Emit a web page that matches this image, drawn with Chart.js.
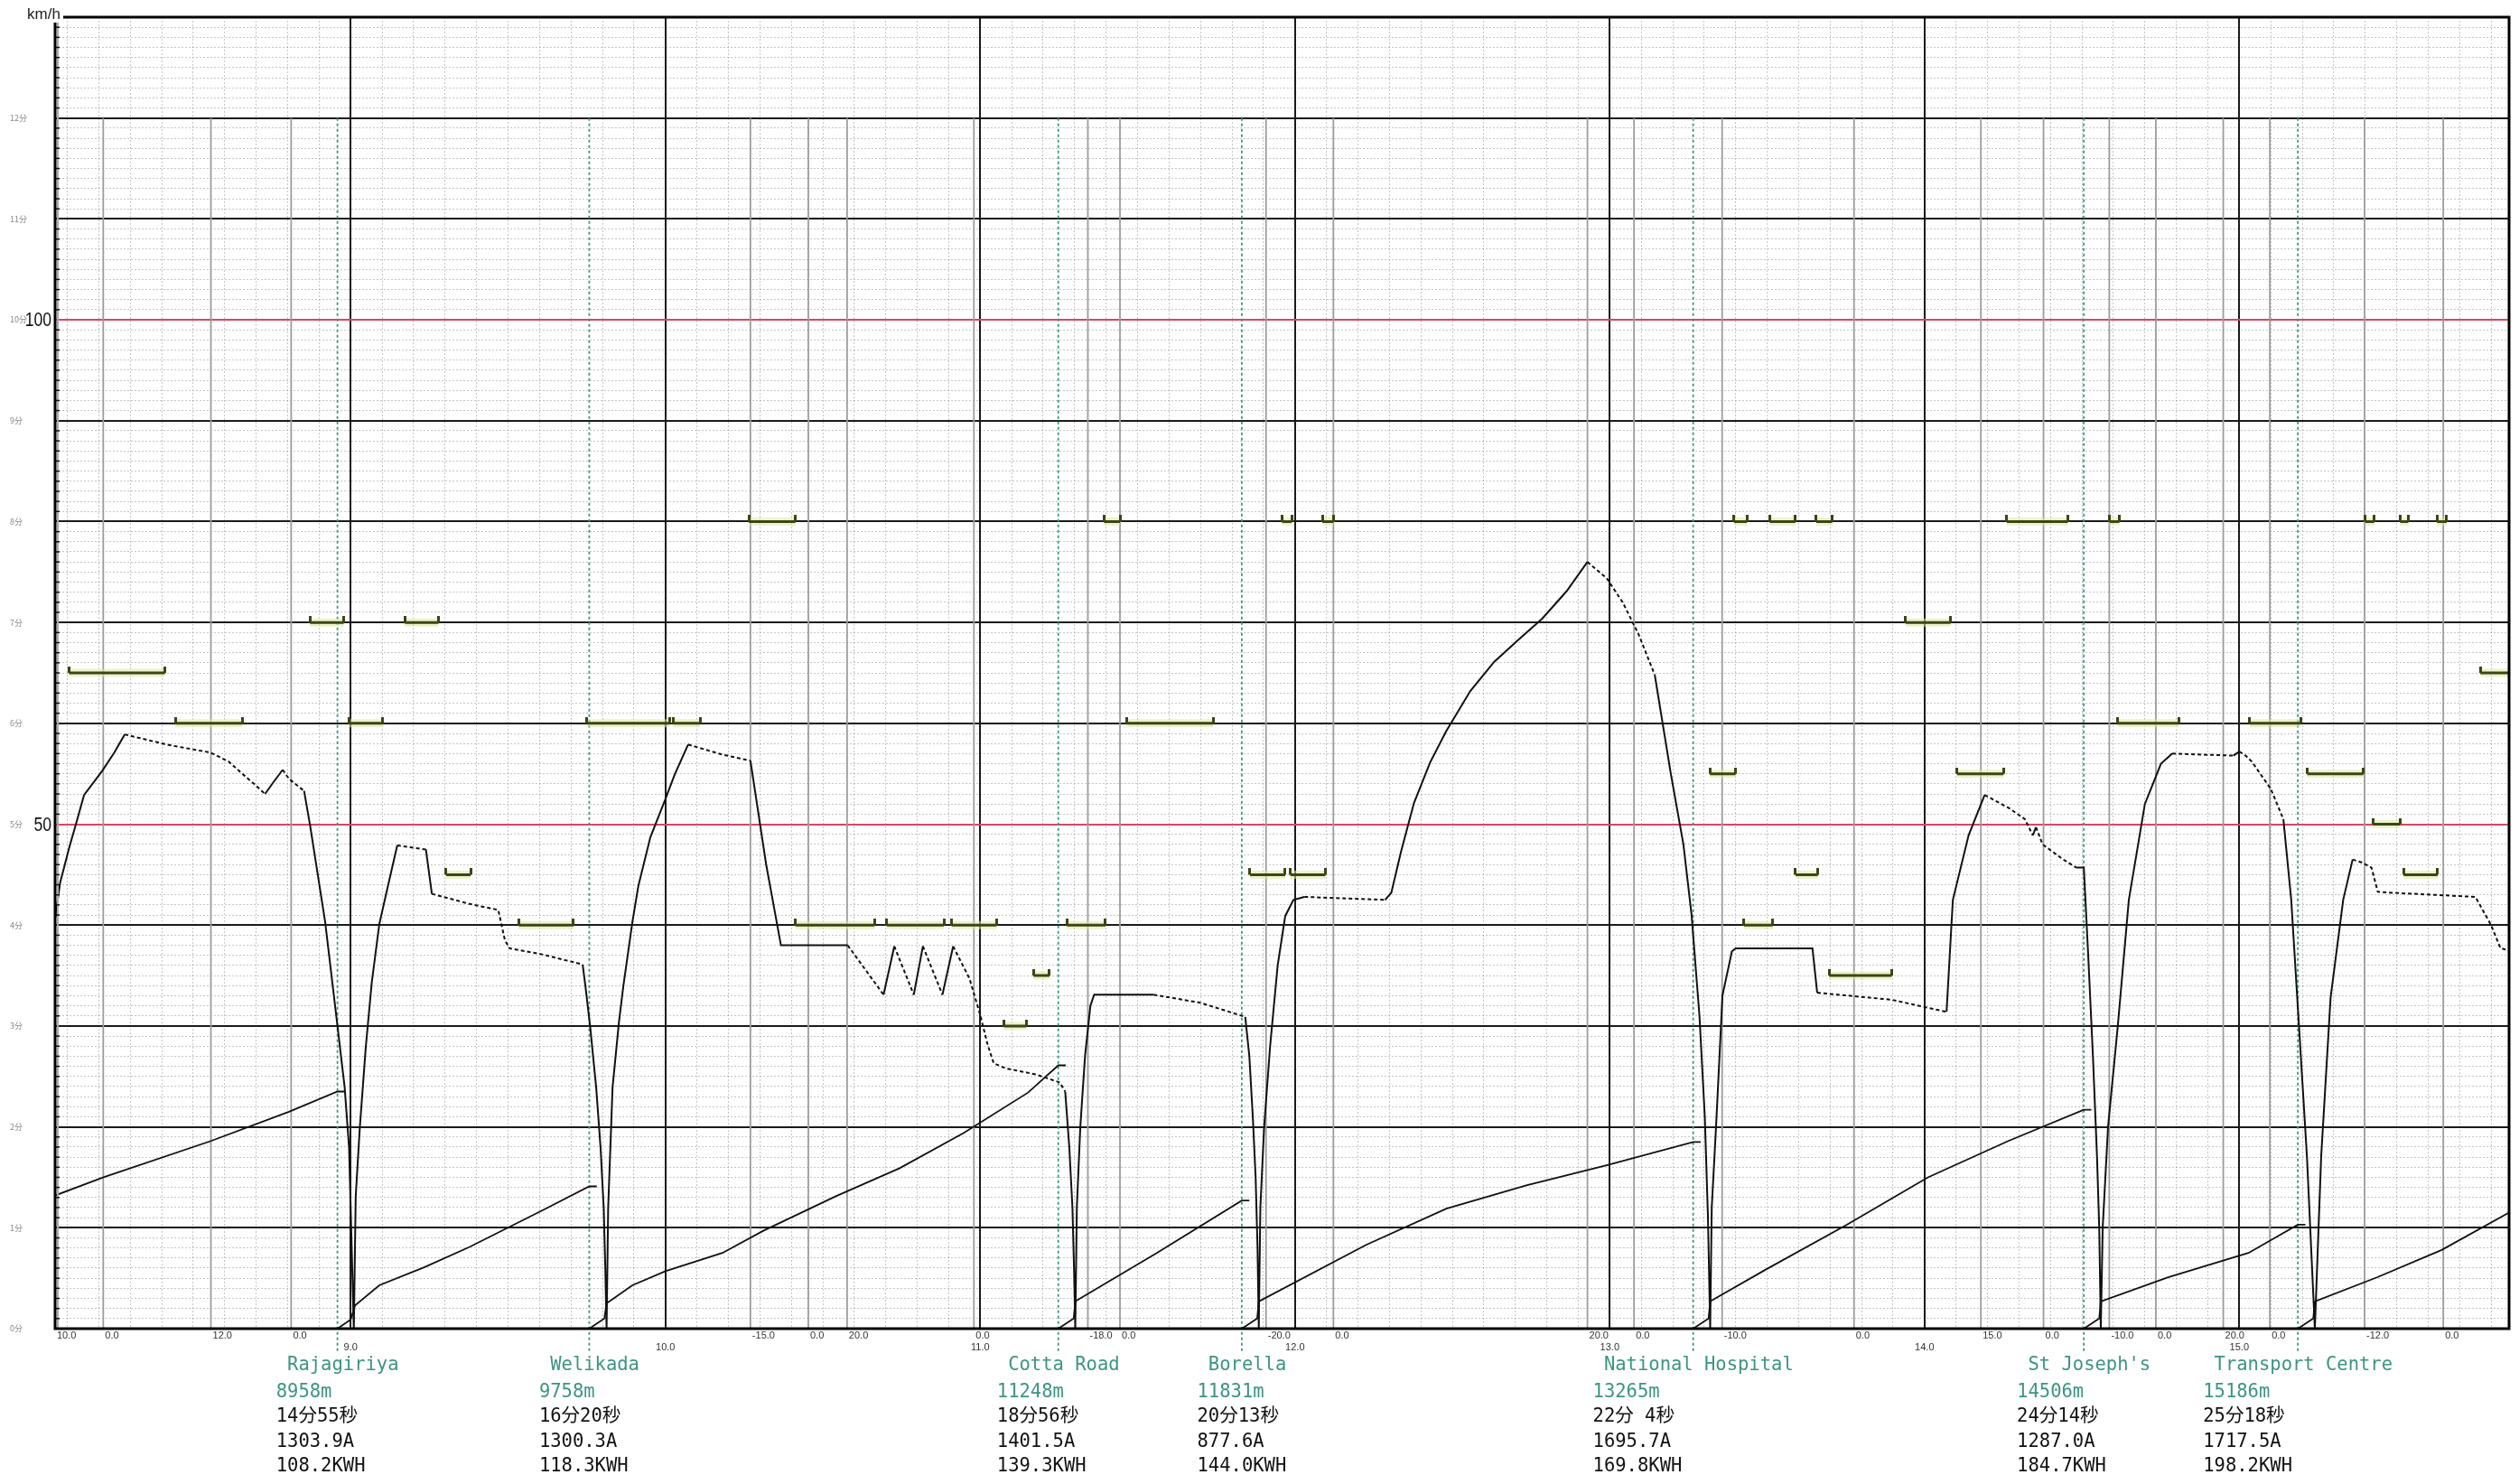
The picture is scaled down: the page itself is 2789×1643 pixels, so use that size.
<!DOCTYPE html>
<html>
<head>
<meta charset="utf-8">
<script src="https://cdn.jsdelivr.net/npm/chart.js@4.4.1/dist/chart.umd.min.js"></script>
<style>
html, body { margin: 0; padding: 0; background: #fff; }
canvas { display: block; }
</style>
</head>
<body>
<canvas id="runCurve" width="2789" height="1643"></canvas>
<script>
// 横軸 (km) の範囲とキロ程の目盛
const kmMin = 8.061, kmMax = 15.857;
const kmMajor = [9, 10, 11, 12, 13, 14, 15];
const minuteLabels = ['0分', '1分', '2分', '3分', '4分', '5分', '6分', '7分', '8分', '9分', '10分', '11分', '12分'];

// 速度曲線 (km, km/h)
const speedKm = [
  8.061, 8.063, 8.077, 8.106, 8.129, 8.153, 8.211, 8.249, 8.282, 8.402, 8.431, 8.555, 8.613, 8.652, 8.693, 8.728, 8.753, 8.784, 8.804, 8.852, 8.871, 8.919, 8.957, 8.981, 8.995, 9.000, 9.005, 9.010,
  9.016, 9.029, 9.048, 9.067, 9.091, 9.120, 9.148, 9.239, 9.258, 9.378, 9.469, 9.490, 9.505, 9.608, 9.737, 9.746, 9.761, 9.780, 9.794, 9.804, 9.809, 9.813,
  9.818, 9.832, 9.852, 9.866, 9.895, 9.914, 9.952, 10.000, 10.029, 10.072, 10.181, 10.270, 10.320, 10.367, 10.579, 10.693, 10.727, 10.789, 10.818, 10.880, 10.914, 10.966, 11.000, 11.024, 11.043, 11.081, 11.177, 11.253, 11.270, 11.283, 11.293, 11.298, 11.302,
  11.307, 11.318, 11.333, 11.350, 11.362, 11.551, 11.700, 11.842, 11.855, 11.866, 11.875, 11.881, 11.885,
  11.890, 11.902, 11.921, 11.945, 11.969, 11.995, 12.030, 12.286, 12.306, 12.337, 12.378, 12.429, 12.480, 12.557, 12.633, 12.710, 12.786, 12.863, 12.929, 12.990, 13.041, 13.092, 13.143, 13.194, 13.234, 13.260, 13.285, 13.302, 13.312, 13.319,
  13.324, 13.338, 13.358, 13.388, 13.400, 13.644, 13.659, 13.896, 14.070, 14.090, 14.140, 14.191, 14.268, 14.319, 14.344, 14.354, 14.375, 14.441, 14.482, 14.506, 14.520, 14.535, 14.548, 14.555, 14.560,
  14.566, 14.583, 14.614, 14.649, 14.700, 14.751, 14.787, 14.981, 15.000, 15.020, 15.040, 15.060, 15.100, 15.140, 15.165, 15.190, 15.215, 15.240,
  15.260, 15.290, 15.330, 15.360, 15.390, 15.420, 15.440, 15.490, 15.750, 15.800, 15.830, 15.857
];
const speedKmh = [
  40.9, 41.1, 44.2, 47.7, 50.2, 52.9, 55.3, 57.1, 58.9, 58.0, 57.8, 57.1, 56.2, 55.1, 54.0, 53.0, 54.1, 55.4, 54.5, 53.3, 49.9, 40.3, 30.3, 23.9, 17.9, 11.9, 5.9, 0,
  13.1, 19.9, 27.9, 34.3, 40.1, 44.1, 47.9, 47.5, 43.1, 42.1, 41.5, 38.5, 37.7, 37.1, 36.1, 33.9, 29.9, 23.9, 17.9, 11.9, 5.9, 0,
  11.9, 23.9, 30.3, 33.9, 40.3, 43.9, 48.7, 52.5, 54.9, 57.9, 56.9, 56.3, 46.0, 38.0, 38.0, 33.1, 37.9, 33.1, 37.9, 33.1, 37.9, 34.7, 31.1, 28.1, 26.3, 25.8, 25.2, 24.4, 23.5, 18.0, 12.0, 6.0, 0,
  12, 20, 27, 32, 33.1, 33.1, 32.3, 30.9, 27, 21, 15, 8, 0,
  12, 20, 28, 36, 40.9, 42.5, 42.8, 42.5, 43.2, 47.3, 52.1, 56.1, 59.2, 63.2, 66.1, 68.3, 70.4, 73.1, 76.0, 74.4, 72.0, 68.8, 64.8, 55, 48, 41, 31, 21, 11, 0,
  12, 20.2, 33, 37.4, 37.7, 37.7, 33.3, 32.6, 31.4, 42.5, 48.9, 52.9, 51.6, 50.5, 48.9, 49.7, 48.0, 46.5, 45.7, 45.7, 37, 27, 17, 10, 0,
  10, 20, 30, 42.5, 52, 56, 57, 56.8, 57.2, 56.8, 56.2, 55.3, 53.5, 50.5, 42.5, 29.8, 17, 0,
  17, 32.8, 42.5, 46.5, 46.2, 45.7, 43.3, 43.2, 42.8, 40, 37.7, 37.5
];

// 駅間の経過時間 (分)  null で区切る
const timeKm = [
  8.061, 8.215, 8.556, 8.804, 8.958, null,
  8.958, 9.000, 9.014, 9.091, 9.235, 9.378, 9.608, 9.758, null,
  9.758, 9.806, 9.813, 9.895, 10.000, 10.181, 10.311, 10.540, 10.744, 10.948, 11.152, 11.248, null,
  11.248, 11.297, 11.302, 11.561, 11.831, null,
  11.831, 11.880, 11.885, 12.226, 12.481, 12.735, 12.990, 13.265, null,
  13.265, 13.314, 13.319, 13.498, 13.753, 14.011, 14.266, 14.506, null,
  14.506, 14.555, 14.560, 14.774, 15.029, 15.186, null,
  15.186, 15.235, 15.240, 15.439, 15.643, 15.857
];
const timeMin = [
  1.32, 1.50, 1.86, 2.15, 2.35, null,
  0, 0.09, 0.23, 0.43, 0.61, 0.81, 1.17, 1.41, null,
  0, 0.1, 0.25, 0.43, 0.57, 0.75, 0.97, 1.31, 1.59, 1.94, 2.34, 2.61, null,
  0, 0.1, 0.27, 0.75, 1.27, null,
  0, 0.1, 0.27, 0.83, 1.19, 1.42, 1.62, 1.85, null,
  0, 0.1, 0.27, 0.59, 1.03, 1.50, 1.86, 2.17, null,
  0, 0.1, 0.27, 0.51, 0.75, 1.03, null,
  0, 0.1, 0.27, 0.51, 0.78, 1.15
];

// 勾配変化点 (km) と勾配 (‰)
const gradeKm = [8.061, 8.214, 8.556, 8.811, 10.270, 10.454, 10.577, 10.980, 11.342, 11.444, 11.908, 12.122, 12.929, 13.077, 13.357, 13.776, 14.179, 14.378, 14.587, 14.735, 14.949, 15.097, 15.398, 15.648];
const gradeText = ['10.0', '0.0', '12.0', '0.0', '-15.0', '0.0', '20.0', '0.0', '-18.0', '0.0', '-20.0', '0.0', '20.0', '0.0', '-10.0', '0.0', '15.0', '0.0', '-10.0', '0.0', '20.0', '0.0', '-12.0', '0.0'];

// 制限速度区間
const limitFrom = [8.105, 8.443, 8.871, 8.995, 9.172, 9.303, 9.534, 9.751, 10.024, 10.265, 10.413, 10.703, 10.909, 11.076, 11.169, 11.275, 11.393, 11.465, 11.857, 11.959, 11.985, 12.087, 13.318, 13.395, 13.426, 13.508, 13.590, 13.656, 13.697, 13.940, 14.103, 14.261, 14.588, 14.613, 15.033, 15.216, 15.424, 15.522, 15.400, 15.511, 15.628, 15.766];
const limitTo = [8.410, 8.656, 8.978, 9.102, 9.279, 9.381, 9.708, 10.014, 10.110, 10.413, 10.665, 10.885, 11.052, 11.146, 11.220, 11.398, 11.444, 11.740, 11.969, 11.990, 12.097, 12.122, 13.400, 13.436, 13.518, 13.590, 13.661, 13.707, 13.896, 14.083, 14.251, 14.455, 14.619, 14.807, 15.196, 15.394, 15.511, 15.630, 15.429, 15.537, 15.659, 15.857];
const limitKmh = [65, 60, 70, 60, 70, 45, 40, 60, 60, 80, 40, 40, 40, 30, 35, 40, 80, 60, 45, 80, 45, 80, 55, 80, 40, 80, 45, 80, 35, 70, 55, 80, 80, 60, 60, 55, 50, 45, 80, 80, 80, 65];

// 駅
const stationName = ['Rajagiriya', 'Welikada', 'Cotta Road', 'Borella', 'National Hospital', "St Joseph's", 'Transport Centre'];
const stationM = [8958, 9758, 11248, 11831, 13265, 14506, 15186];
const stationTime = ['14分55秒', '16分20秒', '18分56秒', '20分13秒', '22分 4秒', '24分14秒', '25分18秒'];
const stationAmp = ['1303.9A', '1300.3A', '1401.5A', '877.6A', '1695.7A', '1287.0A', '1717.5A'];
const stationKwh = ['108.2KWH', '118.3KWH', '139.3KWH', '144.0KWH', '169.8KWH', '184.7KWH', '198.2KWH'];

const TEAL = '#3d9482';
const OLIVE = '#3a4614';

// ---- データセット用の配列を組み立てる ----
const speedData = speedKm.map((k, i) => ({ x: k, y: speedKmh[i] }));

const timeData = [];
for (let i = 0; i < timeKm.length; i++) {
  if (timeKm[i] === null) {
    const last = timeData[timeData.length - 1];
    timeData.push({ x: last.x + 0.024, y: last.y }); // 駅到着の短いひげ
    timeData.push({ x: last.x, y: null });
  } else {
    timeData.push({ x: timeKm[i], y: timeMin[i] });
  }
}

const gradeData = [];
gradeKm.slice(1).forEach(k => { gradeData.push({ x: k, y: 120 }, { x: k, y: 0 }, { x: k, y: null }); });

const stationLineData = [];
stationM.forEach(m => { stationLineData.push({ x: m / 1000, y: 120 }, { x: m / 1000, y: -2.4 }, { x: m / 1000, y: null }); });
const stationMarkData = stationM.map(m => ({ x: m / 1000, y: -1.0 }));

const limitData = [];
limitFrom.forEach((f, i) => { limitData.push({ x: f, y: limitKmh[i] }, { x: limitTo[i], y: limitKmh[i] }, { x: limitTo[i], y: null }); });

// 制限速度の端の上向きのひげ
const tickImg = document.createElement('canvas');
tickImg.width = 3; tickImg.height = 14;
const tctx = tickImg.getContext('2d');
tctx.fillStyle = OLIVE;
tctx.fillRect(0, 0, 3, 7);

// 目盛線だけを描く軸
function gridAxis(position, min, max, values, color, width, dash, z) {
  return {
    type: 'linear', position: position, min: min, max: max,
    afterBuildTicks: s => { s.ticks = values.map(v => ({ value: v })); },
    ticks: { display: false },
    grid: { color: color, lineWidth: width, drawTicks: false, z: z },
    border: { display: false, dash: dash }
  };
}

const kmMinor = [];
for (let k = 81; k <= 158; k++) { if (k % 10 !== 0) kmMinor.push(k / 10); }
const kmhMajor = [];
for (let v = 10; v <= 120; v += 10) kmhMajor.push(v);
const kmhMinor = [];
for (let v = 1; v < 130; v++) { if (v % 10 !== 0) kmhMinor.push(v); }

// 枠・文字を描くプラグイン
const frame = {
  id: 'frame',
  afterDraw(chart) {
    const c = chart.ctx, a = chart.chartArea;
    const sx = chart.scales.x, sy = chart.scales.y;
    c.save();

    // 左軸の小目盛
    c.strokeStyle = '#aaa'; c.lineWidth = 2;
    c.beginPath(); c.moveTo(a.left + 3, a.top + 6); c.lineTo(a.left + 3, a.bottom); c.stroke();
    c.strokeStyle = '#111'; c.lineWidth = 1.5;
    kmhMinor.forEach(v => {
      const y = sy.getPixelForValue(v);
      c.beginPath(); c.moveTo(a.left, y); c.lineTo(a.left + 5, y); c.stroke();
    });

    // 外枠
    c.strokeStyle = '#000'; c.lineWidth = 3;
    c.beginPath();
    c.moveTo(70, a.top); c.lineTo(a.right, a.top); c.lineTo(a.right, a.bottom);
    c.lineTo(a.left, a.bottom); c.lineTo(a.left, a.top + 6);
    c.stroke();

    // 縦軸の文字
    c.fillStyle = '#222'; c.textBaseline = 'middle';
    c.font = '17px "Liberation Sans"'; c.textAlign = 'left';
    c.fillText('km/h', 30, 16);
    c.fillStyle = '#888'; c.font = '9px "Noto Sans CJK JP"';
    minuteLabels.forEach((t, i) => { c.fillText(t, 11, sy.getPixelForValue(i * 10)); });
    c.fillStyle = '#111'; c.textAlign = 'right';
    [100, 50].forEach(v => {
      c.save();
      c.translate(57, sy.getPixelForValue(v) + 1);
      c.scale(0.8, 1);
      c.font = '22px "Liberation Sans"';
      c.fillText(String(v), 0, 0);
      c.restore();
    });

    // 勾配とキロ程
    c.fillStyle = '#333'; c.font = '11px "Liberation Sans"';
    c.textAlign = 'left';
    gradeKm.forEach((k, i) => { c.fillText(gradeText[i], sx.getPixelForValue(k) + 2, a.bottom + 8); });
    c.textAlign = 'center';
    kmMajor.forEach(k => { c.fillText(k.toFixed(1), sx.getPixelForValue(k), a.bottom + 21); });

    // 駅の情報
    c.textAlign = 'left';
    c.font = '20.5px "DejaVu Sans Mono", "Noto Sans CJK JP"';
    stationName.forEach((n, i) => {
      const label = ' ' + n;
      const left = sx.getPixelForValue(stationM[i] / 1000) - c.measureText(label).width / 2;
      c.fillStyle = TEAL;
      c.fillText(label, left, 1512);
      c.fillText(stationM[i] + 'm', left, 1542);
      c.fillStyle = '#111';
      c.fillText(stationTime[i], left, 1569);
      c.fillText(stationAmp[i], left, 1597);
      c.fillText(stationKwh[i], left, 1624);
    });
    c.restore();
  }
};

new Chart(document.getElementById('runCurve').getContext('2d'), {
  type: 'line',
  data: {
    datasets: [
      { data: speedData, order: 1, borderColor: '#111', borderWidth: 2, pointRadius: 0, tension: 0,
        segment: { borderDash: s => {
          const dv = speedKmh[s.p1DataIndex] - speedKmh[s.p0DataIndex];
          const dk = speedKm[s.p1DataIndex] - speedKm[s.p0DataIndex];
          return (dv < 0 && -dv / dk < 150) ? [4, 3] : undefined;
        } } },
      { data: timeData, yAxisID: 'yTime', order: 2, borderColor: '#111', borderWidth: 1.8, pointRadius: 0, spanGaps: false },
      { data: stationMarkData, order: 1, showLine: false, pointStyle: 'triangle', pointRadius: 8,
        pointBorderColor: '#111', pointBackgroundColor: 'rgba(0,0,0,0)', pointBorderWidth: 1.8, clip: false },
      { data: limitData, order: 3, borderColor: OLIVE, borderWidth: 3, spanGaps: false,
        pointStyle: tickImg, pointRadius: 5, pointHoverRadius: 5 },
      { data: limitData, order: 4, borderColor: 'rgba(222,232,160,0.55)', borderWidth: 9, pointRadius: 0, spanGaps: false },
      { data: stationLineData, order: 5, borderColor: TEAL, borderWidth: 1.8, borderDash: [3, 3], pointRadius: 0, spanGaps: false, clip: false },
      { data: gradeData, order: 6, borderColor: '#9c9c9c', borderWidth: 1.8, pointRadius: 0, spanGaps: false }
    ]
  },
  options: {
    responsive: false,
    animation: false,
    events: [],
    layout: { padding: { left: 61, top: 19, right: 11, bottom: 172 } },
    plugins: { legend: { display: false }, tooltip: { enabled: false } },
    scales: {
      xMinor: gridAxis('bottom', kmMin, kmMax, kmMinor, 'rgba(120,120,120,0.42)', 1, [2, 2], -2),
      yMinor: gridAxis('left', 0, 130, kmhMinor, 'rgba(120,120,120,0.42)', 1, [2, 2], -2),
      x: gridAxis('bottom', kmMin, kmMax, kmMajor, '#1a1a1a', 2, [], -1),
      y: gridAxis('left', 0, 130, kmhMajor, c => (c.tick && (c.tick.value === 50 || c.tick.value === 100)) ? 'rgb(214,72,96)' : '#1a1a1a', 2, [], -1),
      yTime: { type: 'linear', position: 'left', min: 0, max: 13, display: false }
    }
  },
  plugins: [frame]
});
</script>
</body>
</html>
